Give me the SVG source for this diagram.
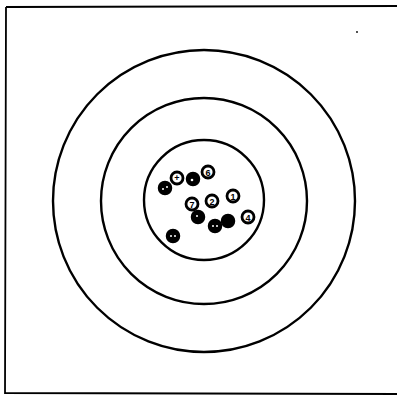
<svg xmlns="http://www.w3.org/2000/svg" width="397" height="398" viewBox="0 0 397 398">
<style>
.ring{fill:none;stroke:#000;stroke-width:2.4}
.frame{fill:none;stroke:#000;stroke-width:1.8}
.hw{fill:#fff;stroke:#000;stroke-width:2.8}
.hd{fill:#000;stroke:#000;stroke-width:1.5}
.mk{fill:#fff}
.t{font-family:"Liberation Sans",Arial,sans-serif;font-size:9px;font-weight:bold;fill:#000;text-anchor:middle}
</style>
<rect width="397" height="398" fill="#fff"/>
<g id="frame"><path class="frame" d="M6,7 L397,6 M6,7 L5,393 L397,394"/></g>
<g id="target">
<circle class="ring" cx="204" cy="201" r="151"/>
<circle class="ring" cx="204" cy="201" r="103"/>
<circle class="ring" cx="204" cy="200" r="60"/>
<circle cx="357" cy="32" r="0.9" fill="#000"/>
</g>
<g id="holes">
<g id="h1"><circle class="hd" cx="165" cy="188" r="6.5"/><circle class="mk" cx="163" cy="189" r="1"/><circle class="mk" cx="167" cy="187" r="1"/></g>
<g id="h2"><circle class="hw" cx="177" cy="178" r="6"/><text class="t" x="177" y="181">+</text></g>
<g id="h3"><circle class="hd" cx="193" cy="179" r="6.5"/><circle class="mk" cx="192" cy="180" r="1.3"/></g>
<g id="h4"><circle class="hw" cx="208" cy="172" r="6"/><text class="t" x="208" y="175.5">6</text></g>
<g id="h5"><circle class="hw" cx="192" cy="204" r="6"/><text class="t" x="192" y="207.5">7</text></g>
<g id="h6"><circle class="hw" cx="212" cy="201" r="6"/><text class="t" x="212" y="204.5">2</text></g>
<g id="h7"><circle class="hw" cx="233" cy="196" r="6"/><text class="t" x="233" y="199.5">1</text></g>
<g id="h8"><circle class="hd" cx="198" cy="217" r="6.5"/><circle class="mk" cx="197" cy="216" r="1"/></g>
<g id="h9"><circle class="hd" cx="215" cy="226" r="6.5"/><circle class="mk" cx="213" cy="226" r="1"/><circle class="mk" cx="217" cy="226" r="1"/></g>
<g id="h10"><circle class="hd" cx="228" cy="221" r="6.5"/></g>
<g id="h11"><circle class="hw" cx="248" cy="217" r="6"/><text class="t" x="248" y="220.5">4</text></g>
<g id="h12"><circle class="hd" cx="173" cy="236" r="6.5"/><circle class="mk" cx="171" cy="236" r="1"/><circle class="mk" cx="175" cy="236" r="1"/></g>
</g>
</svg>
